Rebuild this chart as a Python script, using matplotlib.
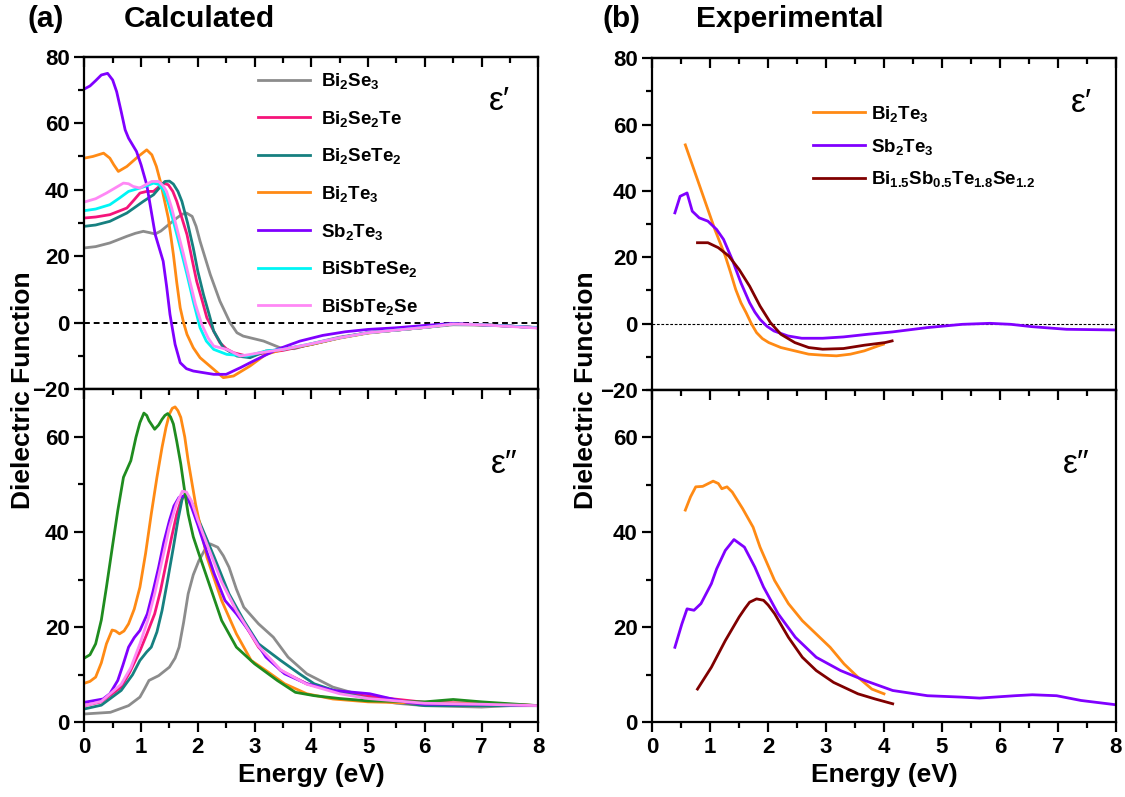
import matplotlib
matplotlib.use("Agg")
import matplotlib.pyplot as plt
from matplotlib.ticker import MultipleLocator

plt.rcParams['font.family'] = ['Liberation Sans', 'DejaVu Sans']
plt.rcParams['font.weight'] = 'bold'
plt.rcParams['mathtext.fontset'] = 'custom'
plt.rcParams['mathtext.rm'] = 'Liberation Sans:bold'
plt.rcParams['mathtext.bf'] = 'Liberation Sans:bold'
plt.rcParams['mathtext.it'] = 'Liberation Sans:bold'

# ---------------- Calculated, real part (eps') ----------------
calc_labels = [r'$\mathbf{Bi_2Se_3}$', r'$\mathbf{Bi_2Se_2Te}$', r'$\mathbf{Bi_2SeTe_2}$',
               r'$\mathbf{Bi_2Te_3}$', r'$\mathbf{Sb_2Te_3}$', r'$\mathbf{BiSbTeSe_2}$',
               r'$\mathbf{BiSbTe_2Se}$']
calc_colors = ['#8c8c8c', '#f5147a', '#168080', '#ff8a14', '#8000ff', '#00f5f5', '#ff88f5']
calc2_colors = ['#8c8c8c', '#f5147a', '#168080', '#ff8a14', '#8000ff', '#1f8c1f', '#ff88f5']

tail_E = [3.5, 4.0, 4.5, 5.0, 5.5, 6.0, 6.5, 7.0, 7.5, 8.0]

e1_Bi2Se3_E = [0, 0.2, 0.45, 0.75, 0.9, 1.04, 1.15, 1.25, 1.35, 1.45, 1.63, 1.72, 1.8, 1.9, 1.97, 2.04, 2.13, 2.22, 2.39, 2.57, 2.69, 2.8, 2.92, 3.16, 3.45, 3.7, 4.0, 4.5, 5.0, 5.5, 6.0, 6.5, 7.0, 7.5, 8.0]
e1_Bi2Se3_V = [22.5, 22.9, 24, 26, 26.9, 27.5, 27.1, 26.7, 27.6, 29, 31.5, 32.6, 33, 32, 29, 24.5, 19.5, 14.5, 6.5, 0, -3, -4, -4.5, -5.5, -7.5, -7.8, -6.3, -4.3, -3.0, -2.2, -1.4, -0.6, -0.7, -1.0, -1.4]

e1_Bi2Se2Te_E = [0, 0.2, 0.45, 0.75, 0.88, 0.98, 1.1, 1.22, 1.39, 1.48, 1.56, 1.63, 1.72, 1.81, 1.9, 1.98, 2.08, 2.16, 2.28, 2.39, 2.5, 2.63, 2.86, 3.2] + tail_E
e1_Bi2Se2Te_V = [31.5, 31.8, 32.5, 34.5, 37, 39, 39.5, 39.5, 42, 41.5, 39.5, 36.5, 31.5, 26.5, 19, 12.5, 6.5, 1.5, -2.5, -6, -7.8, -9, -10, -9, -8.3, -6.5, -4.5, -3.0, -2.2, -1.4, -0.4, -0.6, -1.0, -1.5]

e1_Bi2SeTe2_E = [0, 0.2, 0.45, 0.75, 0.9, 1.04, 1.22, 1.32, 1.42, 1.5, 1.57, 1.65, 1.72, 1.82, 1.92, 2.0, 2.1, 2.2, 2.28, 2.45, 2.69, 2.92, 3.2] + tail_E
e1_Bi2SeTe2_V = [29, 29.4, 30.5, 33, 34.8, 36.5, 38.5, 40.5, 42.5, 42.6, 41.7, 39.5, 36.5, 30, 22.5, 15.5, 8.5, 2.5, -2.5, -7.5, -10, -10.5, -8.5, -8.0, -6.5, -4.5, -3.0, -2.2, -1.4, -0.4, -0.6, -1.0, -1.5]

e1_Bi2Te3_E = [0, 0.15, 0.34, 0.45, 0.52, 0.6, 0.75, 0.95, 1.1, 1.19, 1.27, 1.34, 1.48, 1.57, 1.63, 1.69, 1.75, 1.81, 1.92, 2.04, 2.28, 2.45, 2.63, 2.92, 3.2] + tail_E
e1_Bi2Te3_V = [49.5, 50, 51, 49.5, 47.5, 45.5, 47, 50, 52, 50.5, 47, 42.5, 31.5, 20.5, 12, 4.5, 0, -3.5, -7.5, -10.5, -14, -16.5, -16, -13, -9.5, -8.0, -6.5, -4.6, -3.1, -2.2, -1.4, -0.4, -0.6, -1.0, -1.5]

e1_Sb2Te3_E = [0, 0.1, 0.2, 0.3, 0.41, 0.5, 0.57, 0.65, 0.72, 0.78, 0.85, 0.92, 1.0, 1.1, 1.18, 1.25, 1.32, 1.39, 1.45, 1.51, 1.6, 1.69, 1.8, 1.92, 2.1, 2.28, 2.5, 2.75, 2.98, 3.4, 3.8, 4.2, 4.6, 5.0, 5.5, 6.0, 6.5, 7.0, 7.5, 8.0]
e1_Sb2Te3_V = [70.3, 71.2, 72.8, 74.5, 75, 73, 69.5, 63.5, 58, 55.5, 53.5, 51.5, 47.5, 41.5, 33.5, 26.5, 22.5, 18.5, 11, 2.5, -6.5, -12, -13.8, -14.5, -15, -15.5, -15.5, -13.5, -11.5, -8.0, -5.5, -3.8, -2.7, -2.0, -1.5, -0.8, -0.2, -0.6, -1.0, -1.5]

e1_BiSbTeSe2_E = [0, 0.2, 0.45, 0.62, 0.78, 0.98, 1.1, 1.22, 1.31, 1.39, 1.48, 1.57, 1.7, 1.81, 1.92, 2.04, 2.15, 2.28, 2.51, 2.86, 3.2] + tail_E
e1_BiSbTeSe2_V = [33.7, 34.2, 35.5, 37.5, 39.5, 40.5, 41.2, 42, 41.6, 40, 36, 30.5, 22, 14.5, 6.5, -1.5, -5.5, -8, -9.5, -10, -8.5, -8.0, -6.3, -4.5, -3.0, -2.2, -1.4, -0.4, -0.6, -1.0, -1.5]

e1_BiSbTe2Se_E = [0, 0.2, 0.39, 0.55, 0.69, 0.78, 0.86, 0.98, 1.08, 1.19, 1.31, 1.39, 1.45, 1.54, 1.63, 1.75, 1.86, 1.96, 2.07, 2.18, 2.28, 2.51, 2.75, 3.1] + tail_E
e1_BiSbTe2Se_V = [36.3, 37.3, 39, 40.6, 42, 41.8, 41, 40.5, 41.5, 42.5, 42.5, 41.2, 39.5, 34.5, 28.5, 20.5, 12.5, 5.5, -0.5, -4.5, -7, -8, -10, -9, -8.0, -6.3, -4.5, -3.0, -2.2, -1.4, -0.4, -0.6, -1.1, -1.6]

# ---------------- Calculated, imaginary part (eps'') ----------------
e2_Bi2Se3_E = [0, 0.46, 0.78, 0.98, 1.06, 1.14, 1.31, 1.5, 1.6, 1.67, 1.75, 1.83, 1.92, 2.02, 2.12, 2.22, 2.35, 2.45, 2.55, 2.68, 2.81, 3.07, 3.33, 3.59, 3.92, 4.38, 4.7, 5.0, 5.5, 6.0, 7.0, 7.5, 8.0]
e2_Bi2Se3_V = [1.75, 2.1, 3.5, 5.3, 7.0, 8.8, 9.8, 11.6, 13.5, 15.8, 21, 27, 31, 34, 36.2, 37.5, 36.8, 35, 32.6, 28, 24.2, 20.7, 17.9, 13.7, 10.2, 7.4, 6.3, 5.0, 4.0, 3.5, 3.2, 3.5, 3.5]

e2_Bi2Se2Te_E = [0, 0.3, 0.65, 0.8, 0.98, 1.1, 1.24, 1.34, 1.44, 1.54, 1.63, 1.7, 1.76, 1.82, 1.89, 2.0, 2.16, 2.42, 2.68, 3.07, 3.46, 3.92, 4.5, 5.0, 6.0, 7.0, 8.0]
e2_Bi2Se2Te_V = [3.5, 4.3, 7.4, 10.5, 15, 18.5, 22.8, 27.5, 33.3, 39, 43.8, 46.5, 47.6, 47.3, 45.9, 42.5, 38.2, 29.8, 23.5, 15.8, 10.9, 8.1, 6.3, 5.5, 4.2, 4.0, 3.5]

e2_Bi2SeTe2_E = [0, 0.3, 0.65, 0.85, 0.98, 1.1, 1.18, 1.28, 1.37, 1.47, 1.57, 1.65, 1.73, 1.78, 1.83, 1.92, 2.02, 2.29, 2.55, 2.81, 3.07, 3.46, 3.79, 4.05, 4.5, 5.0, 6.0, 7.0, 8.0]
e2_Bi2SeTe2_V = [2.8, 3.6, 6.7, 10, 13, 14.8, 15.8, 19, 23.5, 30, 36.8, 42.5, 47.3, 47.8, 47.6, 45.5, 42.4, 34.7, 27, 21.4, 16.5, 13, 10.2, 8.1, 6.3, 5.0, 3.5, 3.5, 3.5]

e2_Bi2Te3_E = [0, 0.1, 0.2, 0.3, 0.39, 0.49, 0.55, 0.62, 0.7, 0.78, 0.88, 0.98, 1.08, 1.18, 1.28, 1.37, 1.44, 1.5, 1.55, 1.6, 1.65, 1.7, 1.77, 1.83, 1.96, 2.16, 2.42, 2.68, 2.94, 3.2, 3.53, 3.92, 4.38, 5.0, 6.0, 7.0, 8.0]
e2_Bi2Te3_V = [8.2, 8.6, 9.5, 12.5, 16.5, 19.4, 19.2, 18.6, 19.2, 20.7, 23.8, 28.4, 35.5, 43.8, 51.5, 57.8, 62, 64.8, 66, 66.3, 65.5, 64.1, 60, 55, 45.9, 34.7, 25.6, 18.6, 13, 10.9, 8.1, 6.0, 4.9, 4.3, 4.0, 4.0, 3.5]

e2_Sb2Te3_E = [0, 0.33, 0.45, 0.59, 0.68, 0.78, 0.88, 0.98, 1.11, 1.21, 1.31, 1.4, 1.5, 1.58, 1.67, 1.76, 1.83, 1.89, 2.0, 2.09, 2.29, 2.48, 2.68, 2.94, 3.2, 3.53, 3.92, 4.38, 5.03, 5.68, 6.0, 7.0, 8.0]
e2_Sb2Te3_V = [4.2, 4.9, 6.0, 8.8, 12, 15.8, 17.8, 19.3, 22.8, 27.5, 32.6, 37.8, 42.4, 45.5, 47.3, 47.6, 46.8, 45.2, 41.5, 38.2, 31.2, 25.6, 22.8, 18.6, 13.7, 10.2, 8.1, 6.7, 6.0, 4.2, 3.8, 3.8, 3.5]

e2_BiSbTeSe2_E = [0, 0.1, 0.2, 0.3, 0.39, 0.49, 0.59, 0.69, 0.82, 0.91, 0.98, 1.05, 1.1, 1.14, 1.24, 1.31, 1.37, 1.42, 1.47, 1.52, 1.57, 1.63, 1.7, 1.77, 1.83, 1.92, 2.02, 2.22, 2.42, 2.68, 3.0, 3.4, 3.72, 4.05, 4.5, 5.0, 6.0, 6.5, 7.0, 8.0]
e2_BiSbTeSe2_V = [13.5, 14.2, 16.5, 21.5, 28.4, 36.5, 44.5, 51.5, 55, 59.9, 63, 65, 64.5, 63.4, 61.6, 62.5, 63.7, 64.5, 64.9, 64.2, 62.7, 59, 54.3, 48.5, 43.8, 39, 35.4, 28.4, 21.4, 15.8, 12.3, 8.8, 6.3, 5.6, 5.0, 4.5, 4.3, 4.8, 4.3, 3.5]

e2_BiSbTe2Se_E = [0, 0.3, 0.65, 0.82, 0.98, 1.12, 1.24, 1.37, 1.5, 1.62, 1.73, 1.8, 1.89, 2.0, 2.16, 2.42, 2.68, 3.07, 3.46, 3.92, 4.5, 5.0, 6.0, 7.0, 8.0]
e2_BiSbTe2Se_V = [3.5, 4.4, 8, 11.5, 16.5, 21.5, 27, 34, 41, 45.8, 48.6, 48.4, 46.5, 42.5, 37.5, 29.5, 23.5, 16.0, 11.0, 8.0, 6.0, 5.0, 4.0, 3.8, 3.5]

# ---------------- Experimental ----------------
exp_labels = [r'$\mathbf{Bi_2Te_3}$', r'$\mathbf{Sb_2Te_3}$', r'$\mathbf{Bi_{1.5}Sb_{0.5}Te_{1.8}Se_{1.2}}$']
exp_colors = ['#ff8a14', '#8000ff', '#800000']

x1_Bi2Te3_E = [0.57, 0.72, 0.9, 1.08, 1.26, 1.35, 1.44, 1.53, 1.62, 1.71, 1.8, 1.9, 2.01, 2.22, 2.46, 2.7, 2.94, 3.18, 3.42, 3.66, 3.9, 3.99]
x1_Bi2Te3_V = [53.9, 46.4, 37.4, 28.4, 20.4, 15.5, 10.3, 6.3, 3.3, 0.0, -2.7, -4.5, -5.7, -7.2, -8.2, -9.2, -9.5, -9.7, -9.2, -8.2, -6.7, -6.2]

x1_Sb2Te3_E = [0.39, 0.48, 0.6, 0.69, 0.81, 0.96, 1.11, 1.23, 1.38, 1.53, 1.68, 1.77, 1.86, 1.98, 2.1, 2.34, 2.58, 2.94, 3.3, 3.72, 4.14, 4.74, 5.35, 5.83, 6.19, 6.55, 7.15, 8.0]
x1_Sb2Te3_V = [33.4, 38.4, 39.4, 33.9, 31.9, 30.9, 28.4, 25.4, 19.3, 12.3, 6.3, 3.5, 1.3, -0.8, -2.2, -3.7, -4.4, -4.4, -4.0, -3.2, -2.5, -1.2, -0.2, 0.1, -0.2, -0.9, -1.7, -1.9]

x1_BSTS_E = [0.78, 0.96, 1.14, 1.32, 1.5, 1.68, 1.86, 2.04, 2.22, 2.46, 2.7, 2.94, 3.3, 3.66, 4.02, 4.14]
x1_BSTS_V = [24.4, 24.4, 22.9, 20.4, 16.3, 11.3, 5.3, 0.3, -3.2, -5.7, -7.2, -7.7, -7.5, -6.5, -5.7, -5.2]

x2_Bi2Te3_E = [0.57, 0.66, 0.75, 0.87, 1.05, 1.14, 1.2, 1.29, 1.38, 1.56, 1.74, 1.86, 2.11, 2.35, 2.59, 2.83, 3.07, 3.31, 3.55, 3.79, 4.0]
x2_Bi2Te3_V = [44.7, 47.5, 49.6, 49.7, 50.8, 50.3, 49.2, 49.6, 48.5, 45, 41.1, 36.9, 29.9, 25, 21.4, 18.6, 15.8, 12.3, 9.5, 7.0, 6.0]

x2_Sb2Te3_E = [0.39, 0.51, 0.6, 0.72, 0.84, 1.02, 1.11, 1.26, 1.41, 1.59, 1.77, 1.92, 2.17, 2.47, 2.83, 3.25, 3.67, 4.15, 4.75, 5.35, 5.65, 6.26, 6.56, 6.98, 7.4, 8.0]
x2_Sb2Te3_V = [15.8, 20.7, 23.9, 23.6, 25, 29.2, 32.3, 36.2, 38.5, 36.9, 32.7, 28.5, 22.9, 17.9, 13.7, 10.9, 8.8, 6.7, 5.6, 5.3, 5.1, 5.6, 5.8, 5.6, 4.6, 3.7]

x2_BSTS_E = [0.78, 1.02, 1.26, 1.5, 1.6, 1.68, 1.8, 1.92, 2.0, 2.11, 2.35, 2.59, 2.83, 3.13, 3.55, 3.85, 4.15]
x2_BSTS_V = [7.0, 11.6, 17.2, 22.2, 24.0, 25.3, 26, 25.7, 24.7, 22.9, 17.9, 13.7, 10.9, 8.4, 6.0, 4.9, 3.9]

calc_e1 = [(e1_Bi2Se3_E, e1_Bi2Se3_V), (e1_Bi2Se2Te_E, e1_Bi2Se2Te_V), (e1_Bi2SeTe2_E, e1_Bi2SeTe2_V),
           (e1_Bi2Te3_E, e1_Bi2Te3_V), (e1_Sb2Te3_E, e1_Sb2Te3_V), (e1_BiSbTeSe2_E, e1_BiSbTeSe2_V),
           (e1_BiSbTe2Se_E, e1_BiSbTe2Se_V)]
calc_e2 = [(e2_Bi2Se3_E, e2_Bi2Se3_V), (e2_Bi2Se2Te_E, e2_Bi2Se2Te_V), (e2_Bi2SeTe2_E, e2_Bi2SeTe2_V),
           (e2_Bi2Te3_E, e2_Bi2Te3_V), (e2_Sb2Te3_E, e2_Sb2Te3_V), (e2_BiSbTeSe2_E, e2_BiSbTeSe2_V),
           (e2_BiSbTe2Se_E, e2_BiSbTe2Se_V)]
exp_e1 = [(x1_Bi2Te3_E, x1_Bi2Te3_V), (x1_Sb2Te3_E, x1_Sb2Te3_V), (x1_BSTS_E, x1_BSTS_V)]
exp_e2 = [(x2_Bi2Te3_E, x2_Bi2Te3_V), (x2_Sb2Te3_E, x2_Sb2Te3_V), (x2_BSTS_E, x2_BSTS_V)]

W, H = 1125, 797
fig = plt.figure(figsize=(W / 100, H / 100), dpi=100)


def box(x0, y0, x1, y1):
    return [x0 / W, 1 - y1 / H, (x1 - x0) / W, (y1 - y0) / H]


axA1 = fig.add_axes(box(84.3, 56.7, 538.3, 389.3))
axA2 = fig.add_axes(box(84.3, 389.3, 538.3, 722.3))
axB1 = fig.add_axes(box(652.3, 58.3, 1115.7, 390.0))
axB2 = fig.add_axes(box(652.3, 390.0, 1115.7, 722.3))

LW = 2.0
for (E, V), c, lab in zip(calc_e1, calc_colors, calc_labels):
    axA1.plot(E, V, color=c, lw=LW, label=lab, solid_joinstyle='round')
for (E, V), c in zip(calc_e2, calc2_colors):
    axA2.plot(E, V, color=c, lw=LW, solid_joinstyle='round')
for (E, V), c, lab in zip(exp_e1, exp_colors, exp_labels):
    axB1.plot(E, V, color=c, lw=LW, label=lab, solid_joinstyle='round')
for (E, V), c in zip(exp_e2, exp_colors):
    axB2.plot(E, V, color=c, lw=LW, solid_joinstyle='round')

axA1.axhline(0, color='black', lw=1.4, ls=(0, (3, 2)), zorder=0)
axB1.axhline(0, color='black', lw=0.8, ls=(0, (2.5, 1.5)), zorder=0)

for ax, top in [(axA1, True), (axA2, False), (axB1, True), (axB2, False)]:
    ax.set_xlim(0, 8)
    if top:
        ax.set_ylim(-20, 80)
        ax.yaxis.set_major_locator(MultipleLocator(20))
        ax.yaxis.set_minor_locator(MultipleLocator(10))
    else:
        ax.set_ylim(0, 70)
        ax.set_yticks([0, 20, 40, 60])
        ax.yaxis.set_minor_locator(MultipleLocator(10))
    ax.xaxis.set_major_locator(MultipleLocator(1))
    ax.xaxis.set_minor_locator(MultipleLocator(0.5))
    for s in ax.spines.values():
        s.set_linewidth(1.6)
    ax.tick_params(axis='both', which='both', width=1.6, labelsize=16)
    ax.tick_params(axis='both', which='major', length=7)
    ax.tick_params(axis='both', which='minor', length=4)
    ax.tick_params(axis='x', which='both', direction='out', top=False, bottom=True)
    ax.tick_params(axis='y', which='both', direction='out', left=True, right=False)
    sec = ax.secondary_xaxis('top')
    sec.xaxis.set_major_locator(MultipleLocator(1))
    sec.xaxis.set_minor_locator(MultipleLocator(0.5))
    sec.tick_params(axis='x', which='both', direction='in', width=1.6, labeltop=False)
    sec.tick_params(axis='x', which='major', length=7)
    sec.tick_params(axis='x', which='minor', length=4)
    sec.spines['top'].set_linewidth(1.6)
    if top:
        ax.tick_params(axis='x', labelbottom=False)
    else:
        ax.set_xlabel('Energy (eV)', fontsize=19, fontweight='bold', labelpad=4)
    for lab in ax.get_xticklabels() + ax.get_yticklabels():
        lab.set_fontweight('bold')

axA1.legend(loc='upper left', bbox_to_anchor=(0.365, 0.979), frameon=False, fontsize=13.5,
            handlelength=2.8, handletextpad=0.6, labelspacing=0.94, borderaxespad=0)
axB1.legend(loc='upper left', bbox_to_anchor=(0.33, 0.885), frameon=False, fontsize=13.5,
            handlelength=2.8, handletextpad=0.3, labelspacing=0.67, borderaxespad=0)

eps_font = dict(fontsize=24, fontweight='normal', family=['Liberation Sans', 'DejaVu Sans'],
                ha='center', va='center')
axA1.text(0.915, 0.865, 'ε′', transform=axA1.transAxes, **eps_font)
axA2.text(0.925, 0.775, 'ε″', transform=axA2.transAxes, **eps_font)
axB1.text(0.925, 0.865, 'ε′', transform=axB1.transAxes, **eps_font)
axB2.text(0.915, 0.775, 'ε″', transform=axB2.transAxes, **eps_font)

fig.text(23 / W, 1 - 390 / H, 'Dielectric Function', rotation=90, fontsize=19, fontweight='bold',
         ha='center', va='center')
fig.text(586 / W, 1 - 390 / H, 'Dielectric Function', rotation=90, fontsize=19, fontweight='bold',
         ha='center', va='center')
fig.text(46 / W, 1 - 19 / H, '(a)', fontsize=21.5, fontweight='bold', ha='center', va='center')
fig.text(199 / W, 1 - 19 / H, 'Calculated', fontsize=21.5, fontweight='bold', ha='center', va='center')
fig.text(621 / W, 1 - 19 / H, '(b)', fontsize=21.5, fontweight='bold', ha='center', va='center')
fig.text(790 / W, 1 - 19 / H, 'Experimental', fontsize=21.5, fontweight='bold', ha='center', va='center')

fig.savefig('out.png', dpi=100, facecolor='white')
